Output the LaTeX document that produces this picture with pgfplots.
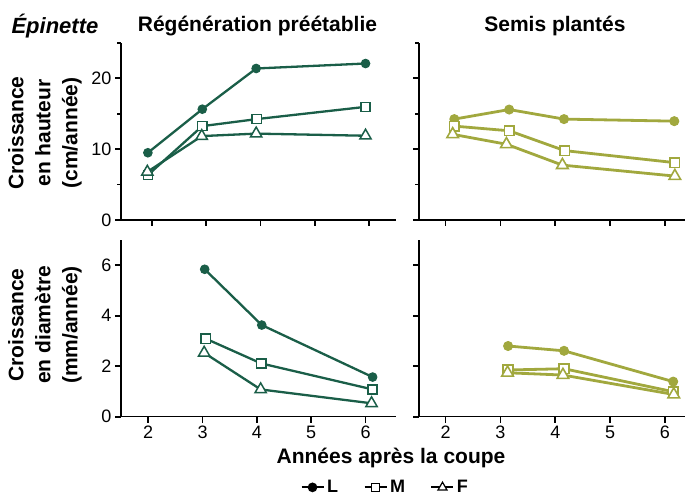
\documentclass[border=0pt]{standalone}
\usepackage{fontspec}
\setmainfont{Liberation Sans}
\usepackage{pgfplots}
\pgfplotsset{compat=1.18}

\definecolor{dg}{RGB}{26,94,72}
\definecolor{ol}{RGB}{161,168,62}

\pgfplotsset{
  base/.style={
    scale only axis, axis lines=left, axis line style={-, line width=1.6pt},
    every tick/.style={line width=1.8pt, black},
    major tick length=6pt, minor tick length=4pt, tick align=outside,
    xtick={2,3,4,5,6},
    tick label style={font=\fontsize{18}{18}\selectfont},
    /pgf/number format/assume math mode=true,
    clip=false,
  },
  toprow/.style={base, height=177pt, ymin=0, ymax=25, ytick={0,10,20}, minor ytick={5,15,25}, xticklabels={}},
  botrow/.style={base, height=176.7pt, ymin=0, ymax=7, ytick={0,2,4,6}},
  colL/.style={width=275pt},
  colR/.style={width=266pt, yticklabels={}},
  Ld/.style={dg, line width=2.3pt, mark=*, mark size=4.3pt, mark options={fill=dg, line width=1pt}},
  Md/.style={dg, line width=2.3pt, mark=square*, mark size=4.6pt, mark options={fill=white, line width=1.5pt}},
  Fd/.style={dg, line width=2.3pt, mark=triangle*, mark size=6.5pt, mark options={fill=white, line width=1.5pt}},
  Lo/.style={ol, line width=2.8pt, mark=*, mark size=4.5pt, mark options={fill=ol, line width=1pt}},
  Mo/.style={ol, line width=2.8pt, mark=square*, mark size=4.8pt, mark options={fill=white, line width=1.6pt}},
  Fo/.style={ol, line width=2.8pt, mark=triangle*, mark size=6.7pt, mark options={fill=white, line width=1.6pt}},
}

\begin{document}
\begin{tikzpicture}
\useasboundingbox (0,0) rectangle (686pt,497pt);

% Top-left: height, Regeneration preetablie
\begin{axis}[toprow, colL, at={(121pt,277pt)}, anchor=south west, xmin=1.436, xmax=6.49]
\addplot[Ld] coordinates {(1.93,9.5) (2.93,15.65) (3.92,21.4) (5.93,22.1)};
\addplot[Md] coordinates {(1.93,6.35) (2.93,13.26) (3.93,14.25) (5.93,15.98)};
\addplot[Fd] coordinates {(1.92,6.8) (2.92,11.85) (3.92,12.2) (5.93,11.9)};
\end{axis}

% Top-right: height, Semis plantes
\begin{axis}[toprow, colR, at={(419pt,277pt)}, anchor=south west, xmin=1.516, xmax=6.365]
\addplot[Lo] coordinates {(2.16,14.25) (3.16,15.6) (4.16,14.25) (6.17,13.96)};
\addplot[Mo] coordinates {(2.16,13.26) (3.16,12.6) (4.17,9.8) (6.18,8.1)};
\addplot[Fo] coordinates {(2.13,12.1) (3.11,10.7) (4.13,7.75) (6.18,6.2)};
\end{axis}

% Bottom-left: diameter, Regeneration preetablie
\begin{axis}[botrow, colL, at={(121pt,80.3pt)}, anchor=south west, xmin=1.50, xmax=6.56,
  legend columns=3,
  legend style={draw=none, fill=none, at={(0.96,-0.40)}, anchor=center, inner sep=0pt,
    font=\bfseries\fontsize{18}{18}\selectfont,
    nodes={inner sep=1.5pt},
    /tikz/every even column/.append style={column sep=24pt},
    /tikz/every odd column/.append style={column sep=1pt}},
  legend image code/.code={\draw[mark repeat=2,mark phase=2] plot coordinates {(0pt,0pt)(11pt,0pt)(22pt,0pt)};}]
\addplot[Ld, forget plot] coordinates {(3.04,5.84) (4.09,3.63) (6.13,1.57)};
\addplot[Md, forget plot] coordinates {(3.06,3.09) (4.08,2.11) (6.13,1.08)};
\addplot[Fd, forget plot] coordinates {(3.03,2.53) (4.07,1.08) (6.11,0.53)};
\addlegendimage{black, line width=2pt, mark=*, mark size=3.8pt, mark options={fill=black}}
\addlegendentry{L}
\addlegendimage{black, line width=2pt, mark=square*, mark size=3.8pt, mark options={fill=white, line width=1.2pt}}
\addlegendentry{M}
\addlegendimage{black, line width=2pt, mark=triangle*, mark size=5.2pt, mark options={fill=white, line width=1.2pt}}
\addlegendentry{F}
\end{axis}

% Bottom-right: diameter, Semis plantes
\begin{axis}[botrow, colR, at={(419pt,80.3pt)}, anchor=south west, xmin=1.516, xmax=6.365]
\addplot[Lo] coordinates {(3.14,2.80) (4.16,2.61) (6.15,1.39)};
\addplot[Mo] coordinates {(3.14,1.85) (4.16,1.90) (6.15,0.99)};
\addplot[Fo] coordinates {(3.13,1.74) (4.14,1.65) (6.16,0.88)};
\end{axis}

% Titles and labels
\node[anchor=west, font=\bfseries\itshape\fontsize{22}{22}\selectfont] at (8pt,471pt) {Épinette};
\node[font=\bfseries\fontsize{21}{21}\selectfont] at (257.5pt,471pt) {Régénération préétablie};
\node[font=\bfseries\fontsize{21}{21}\selectfont] at (555pt,471pt) {Semis plantés};
\node[rotate=90, align=center, font=\bfseries\fontsize{21}{27}\selectfont] at (45pt,364pt) {Croissance\\en hauteur\\(cm/année)};
\node[rotate=90, align=center, font=\bfseries\fontsize{21}{27}\selectfont] at (45pt,172pt) {Croissance\\en diamètre\\(mm/année)};
\node[font=\bfseries\fontsize{21}{21}\selectfont] at (391pt,39pt) {Années après la coupe};
\end{tikzpicture}
\end{document}
